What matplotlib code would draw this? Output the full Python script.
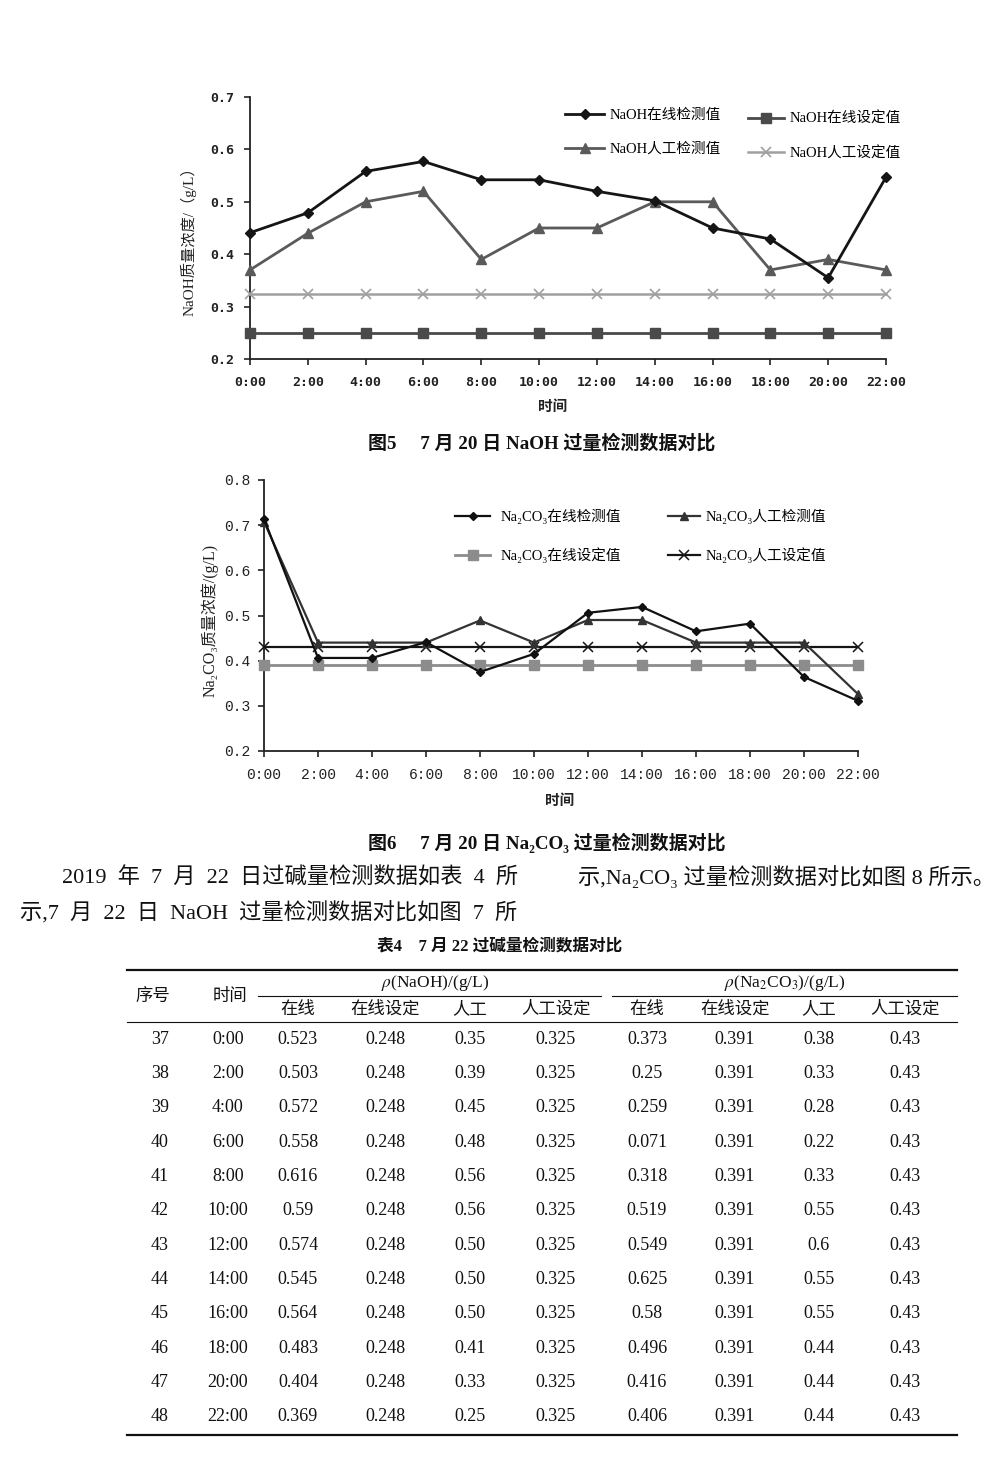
import matplotlib
matplotlib.use('Agg')
import matplotlib.pyplot as plt
from matplotlib.lines import Line2D

plt.rcParams['mathtext.fontset'] = 'stix'
W, H = 1000, 1464

# ---------------- data ----------------
times = ['0:00', '2:00', '4:00', '6:00', '8:00', '10:00',
         '12:00', '14:00', '16:00', '18:00', '20:00', '22:00']

# Figure 5 (NaOH, July 20)
naoh_online = [0.441, 0.479, 0.558, 0.577, 0.542, 0.542, 0.520, 0.502, 0.450, 0.429, 0.355, 0.547]
naoh_online_set = [0.25, 0.25, 0.25, 0.25, 0.25, 0.25, 0.25, 0.25, 0.25, 0.25, 0.25, 0.25]
naoh_manual = [0.37, 0.44, 0.50, 0.52, 0.39, 0.45, 0.45, 0.50, 0.50, 0.37, 0.39, 0.37]
naoh_manual_set = [0.325, 0.325, 0.325, 0.325, 0.325, 0.325, 0.325, 0.325, 0.325, 0.325, 0.325, 0.325]

# Figure 6 (Na2CO3, July 20)
na2co3_online = [0.714, 0.406, 0.406, 0.441, 0.375, 0.415, 0.506, 0.519, 0.465, 0.482, 0.364, 0.311]
na2co3_manual = [0.708, 0.44, 0.44, 0.44, 0.489, 0.44, 0.49, 0.49, 0.44, 0.44, 0.44, 0.326]
na2co3_online_set = [0.39, 0.39, 0.39, 0.39, 0.39, 0.39, 0.39, 0.39, 0.39, 0.39, 0.39, 0.39]
na2co3_manual_set = [0.43, 0.43, 0.43, 0.43, 0.43, 0.43, 0.43, 0.43, 0.43, 0.43, 0.43, 0.43]

naoh_yticks = [0.2, 0.3, 0.4, 0.5, 0.6, 0.7]
na2co3_yticks = [0.2, 0.3, 0.4, 0.5, 0.6, 0.7, 0.8]

# Table 4 (July 22)
tbl_no = ['37', '38', '39', '40', '41', '42', '43', '44', '45', '46', '47', '48']
tbl_time = ['0:00', '2:00', '4:00', '6:00', '8:00', '10:00',
            '12:00', '14:00', '16:00', '18:00', '20:00', '22:00']
tbl_naoh_online = ['0.523', '0.503', '0.572', '0.558', '0.616', '0.59',
                   '0.574', '0.545', '0.564', '0.483', '0.404', '0.369']
tbl_naoh_online_set = ['0.248'] * 12
tbl_naoh_manual = ['0.35', '0.39', '0.45', '0.48', '0.56', '0.56',
                   '0.50', '0.50', '0.50', '0.41', '0.33', '0.25']
tbl_naoh_manual_set = ['0.325'] * 12
tbl_na2co3_online = ['0.373', '0.25', '0.259', '0.071', '0.318', '0.519',
                     '0.549', '0.625', '0.58', '0.496', '0.416', '0.406']
tbl_na2co3_online_set = ['0.391'] * 12
tbl_na2co3_manual = ['0.38', '0.33', '0.28', '0.22', '0.33', '0.55',
                     '0.6', '0.55', '0.55', '0.44', '0.44', '0.44']
tbl_na2co3_manual_set = ['0.43'] * 12
sub_headers = ['在线', '在线设定', '人工', '人工设定', '在线', '在线设定', '人工', '人工设定']

# ---------------- helpers ----------------
SERIF = ['Liberation Serif', 'DejaVu Serif', 'Noto Sans CJK SC']
CJK = ['Noto Sans CJK SC', 'DejaVu Sans']
EN = '\u2002'


def fx(x):
    return x / W


def fy(y):
    return 1 - y / H


def rect(l, t, r, b):
    return [l / W, 1 - b / H, (r - l) / W, (b - t) / H]


fig = plt.figure(figsize=(W / 100, H / 100), dpi=100)
fig.patch.set_facecolor('white')


def style_axes(ax, ylim, yticks, tickfont, tsize, weight, ypad, xpad):
    ax.set_xlim(0, len(times) - 1)
    ax.set_ylim(*ylim)
    ax.set_xticks(range(len(times)))
    ax.set_xticklabels(times)
    ax.set_yticks(yticks)
    ax.set_yticklabels(['%.1f' % v for v in yticks])
    for s in ['top', 'right']:
        ax.spines[s].set_visible(False)
    for s in ['left', 'bottom']:
        ax.spines[s].set_color('#222222')
        ax.spines[s].set_linewidth(1.3)
    ax.tick_params(axis='both', direction='out', length=4, width=1.2, color='#222222')
    ax.tick_params(axis='y', pad=ypad)
    ax.tick_params(axis='x', pad=xpad)
    for lab in ax.get_xticklabels() + ax.get_yticklabels():
        lab.set_fontfamily(tickfont)
        lab.set_fontsize(tsize)
        lab.set_fontweight(weight)
        lab.set_color('#222222')
    ax.set_facecolor('none')


# ---------------- Figure 5 ----------------
ax1 = fig.add_axes(rect(250, 97, 886, 359))
x = list(range(len(times)))
h_on, = ax1.plot(x, naoh_online, color='#151515', lw=2.0, marker='D', ms=5, clip_on=False, zorder=5)
h_onset, = ax1.plot(x, naoh_online_set, color='#4a4a4a', lw=2.0, marker='s', ms=7.5, clip_on=False, zorder=4)
h_man, = ax1.plot(x, naoh_manual, color='#5a5a5a', lw=2.0, marker='^', ms=7.5, clip_on=False, zorder=4)
h_manset, = ax1.plot(x, naoh_manual_set, color='#a0a0a0', lw=1.8, marker='x', ms=7, mew=1.2,
                     clip_on=False, zorder=3)
style_axes(ax1, (0.2, 0.7), naoh_yticks, 'DejaVu Sans Mono', 9.5, 'bold', 7, 8)

fig.text(fx(188), fy(238), 'NaOH质量浓度/（g/L）', rotation=90, ha='center', va='center',
         fontsize=11, family=SERIF, color='#222222')
fig.text(fx(553), fy(406), '时间', ha='center', va='center', fontsize=10.5, family=CJK,
         fontweight='bold', color='#222222')

legkw = dict(frameon=False, borderaxespad=0, borderpad=0, handletextpad=0.35,
             prop={'family': SERIF, 'size': 10.5}, bbox_transform=fig.transFigure, loc='upper left')
lg1 = ax1.legend(handles=[h_on, h_man], labels=['NaOH在线检测值', 'NaOH人工检测值'],
                 bbox_to_anchor=(fx(565), fy(109)), handlelength=2.7, labelspacing=1.4, **legkw)
ax1.add_artist(lg1)
ax1.legend(handles=[h_onset, h_manset], labels=['NaOH在线设定值', 'NaOH人工设定值'],
           bbox_to_anchor=(fx(748), fy(112)), handlelength=2.5, labelspacing=1.4, **legkw)

fig.text(fx(368), fy(443), '图5\u3000 7 月 20 日 NaOH 过量检测数据对比', ha='left', va='center',
         fontsize=13.7, family=SERIF, fontweight='bold', color='#111111')

# ---------------- Figure 6 ----------------
ax2 = fig.add_axes(rect(264, 480, 858, 751))
g_on, = ax2.plot(x, na2co3_online, color='#111111', lw=1.6, marker='D', ms=4.5, clip_on=False, zorder=5)
g_man, = ax2.plot(x, na2co3_manual, color='#333333', lw=1.6, marker='^', ms=6, clip_on=False, zorder=4)
g_onset, = ax2.plot(x, na2co3_online_set, color='#8c8c8c', lw=2.0, marker='s', ms=6.5, clip_on=False, zorder=3)
g_manset, = ax2.plot(x, na2co3_manual_set, color='#151515', lw=1.6, marker='x', ms=6.5, mew=1.1,
                     clip_on=False, zorder=3)
style_axes(ax2, (0.2, 0.8), na2co3_yticks, 'Liberation Mono', 10.5, 'normal', 6, 8)

fig.text(fx(210), fy(620), 'Na₂CO₃质量浓度/(g/L)', rotation=90, ha='center', va='center',
         fontsize=11.5, family=SERIF, color='#222222')
fig.text(fx(560), fy(800), '时间', ha='center', va='center', fontsize=10.5, family=CJK,
         fontweight='bold', color='#222222')

lg2 = ax2.legend(handles=[g_on, g_onset], labels=['Na₂CO₃在线检测值', 'Na₂CO₃在线设定值'],
                 bbox_to_anchor=(fx(455), fy(509)), handlelength=2.4, labelspacing=1.6,
                 **dict(legkw, handletextpad=0.7))
ax2.add_artist(lg2)
ax2.legend(handles=[g_man, g_manset], labels=['Na₂CO₃人工检测值', 'Na₂CO₃人工设定值'],
           bbox_to_anchor=(fx(668), fy(509)), handlelength=2.2, labelspacing=1.6,
           **dict(legkw, handletextpad=0.35))

fig.text(fx(368), fy(843), '图6\u3000 7 月 20 日 Na₂CO₃ 过量检测数据对比', ha='left', va='center',
         fontsize=13.7, family=SERIF, fontweight='bold', color='#111111')

# ---------------- body text ----------------
body_kw = dict(fontsize=16, family=SERIF, color='#111111', va='center', ha='left')
fig.text(fx(62), fy(878), EN.join(['2019', '年', '7', '月', '22', '日过碱量检测数据如表', '4', '所']), **body_kw)
fig.text(fx(578), fy(878), '示,Na₂CO₃ 过量检测数据对比如图 8 所示。', **body_kw)
fig.text(fx(20), fy(913), EN.join(['示,7', '月', '22', '日', 'NaOH', '过量检测数据对比如图', '7', '所']), **body_kw)

fig.text(fx(500), fy(946), '表4\u30007 月 22 过碱量检测数据对比', ha='center', va='center',
         fontsize=12, family=SERIF, fontweight='bold', color='#111111')

# ---------------- table ----------------
def hline(x0, x1, y, lw):
    fig.add_artist(Line2D([fx(x0), fx(x1)], [fy(y), fy(y)], color='#111111', lw=lw,
                          transform=fig.transFigure))


hline(127, 957, 970, 1.6)
hline(258, 601, 996, 0.8)
hline(612, 957, 996, 0.8)
hline(127, 957, 1022, 0.8)
hline(127, 957, 1435, 1.6)

tk = dict(ha='center', va='center', color='#111111')
fig.text(fx(153), fy(997), '序号', fontsize=12.5, family=SERIF, **tk)
fig.text(fx(230), fy(997), '时间', fontsize=12.5, family=SERIF, **tk)
fig.text(fx(435), fy(983), r'$\rho$(NaOH)/(g/L)', fontsize=12.5, family='Liberation Serif', **tk)
fig.text(fx(785), fy(983), r'$\rho$(Na$_2$CO$_3$)/(g/L)', fontsize=12.5, family='Liberation Serif', **tk)

col_x = [298, 385, 470, 556, 647, 735, 819, 905]
for cx, lab in zip(col_x, sub_headers):
    fig.text(fx(cx), fy(1010), lab, fontsize=12.5, family=SERIF, **tk)

columns = [tbl_naoh_online, tbl_naoh_online_set, tbl_naoh_manual, tbl_naoh_manual_set,
           tbl_na2co3_online, tbl_na2co3_online_set, tbl_na2co3_manual, tbl_na2co3_manual_set]
row_y0, row_dy = 1039, 34.35
for i in range(len(tbl_no)):
    yy = fy(row_y0 + i * row_dy)
    fig.text(fx(160), yy, tbl_no[i], fontsize=13, family='Liberation Serif', **tk)
    fig.text(fx(228), yy, tbl_time[i], fontsize=13, family='Liberation Serif', **tk)
    for cx, col in zip(col_x, columns):
        fig.text(fx(cx), yy, col[i], fontsize=13, family='Liberation Serif', **tk)

fig.savefig('out.png', dpi=100, facecolor='white')
